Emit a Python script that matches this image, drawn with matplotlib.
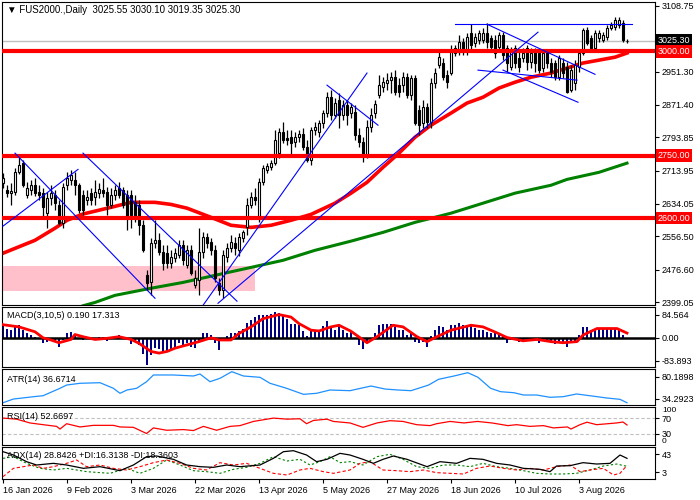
import numpy as np
import matplotlib.pyplot as plt
from matplotlib.patches import Rectangle

plt.rcParams['font.family'] = ['Liberation Sans', 'DejaVu Sans']

# daily candles (bar index 0 = 16 Jan 2026)
opens = [2684, 2667, 2660, 2662, 2710, 2732, 2655, 2667, 2679, 2662,
         2660, 2612, 2648, 2655, 2631, 2588, 2679, 2691, 2691, 2679,
         2655, 2643, 2660, 2650, 2660, 2667, 2662, 2631, 2655, 2672,
         2667, 2655, 2655, 2638, 2631, 2583, 2463, 2446, 2540, 2547,
         2518, 2516, 2492, 2504, 2511, 2535, 2487, 2523, 2439, 2451,
         2518, 2554, 2542, 2523, 2444, 2427, 2506, 2528, 2540, 2523,
         2552, 2578, 2631, 2650, 2602, 2686, 2715, 2722, 2732, 2756,
         2806, 2792, 2794, 2782, 2794, 2801, 2770, 2739, 2811, 2806,
         2828, 2852, 2890, 2847, 2883, 2847, 2871, 2852, 2854, 2799,
         2782, 2751, 2818, 2852, 2895, 2914, 2924, 2931, 2938, 2919,
         2919, 2938, 2895, 2936, 2859, 2828, 2866, 2830, 2924, 2967,
         2972, 2943, 2948, 2996, 2998, 3022, 2998, 3044, 3020, 3027,
         3027, 3044, 3032, 3027, 3010, 3039, 3008, 2962, 3008, 2984,
         2984, 3008, 2974, 2998, 2996, 2960, 2998, 2972, 2972, 2938,
         2972, 2962, 2907, 2924, 2962, 2996, 3051, 3032, 3008, 3032,
         3027, 3034, 3056, 3058, 3063, 3068, 3025.55]
highs = [2708, 2679, 2684, 2720, 2746, 2739, 2686, 2691, 2696, 2679,
         2672, 2662, 2679, 2667, 2643, 2684, 2710, 2715, 2710, 2684,
         2667, 2667, 2672, 2691, 2684, 2696, 2674, 2672, 2679, 2686,
         2674, 2667, 2667, 2655, 2643, 2595, 2475, 2552, 2595, 2564,
         2535, 2535, 2523, 2528, 2547, 2547, 2535, 2535, 2475, 2576,
         2566, 2564, 2552, 2535, 2456, 2523, 2540, 2559, 2554, 2564,
         2571, 2648, 2662, 2672, 2696, 2727, 2732, 2739, 2811, 2816,
         2830, 2811, 2811, 2806, 2811, 2816, 2787, 2818, 2830, 2835,
         2859, 2902, 2907, 2888, 2900, 2883, 2883, 2876, 2871, 2816,
         2794, 2835, 2864, 2883, 2943, 2938, 2948, 2950, 2955, 2936,
         2950, 2948, 2943, 2943, 2871, 2883, 2876, 2936, 2960, 3003,
         2984, 2955, 3015, 3015, 3039, 3032, 3044, 3065, 3044, 3051,
         3056, 3068, 3039, 3039, 3046, 3046, 3015, 3010, 3015, 2998,
         3008, 3015, 3008, 3008, 3003, 3003, 3003, 2984, 2979, 2991,
         2984, 2974, 2967, 2979, 3003, 3056, 3058, 3039, 3051, 3051,
         3046, 3063, 3070, 3082, 3082, 3075, 3030.10]
lows = [2672, 2650, 2631, 2655, 2706, 2674, 2648, 2655, 2653, 2643,
        2602, 2576, 2631, 2619, 2583, 2576, 2667, 2679, 2655, 2612,
        2607, 2631, 2631, 2631, 2648, 2650, 2607, 2624, 2643, 2648,
        2624, 2571, 2576, 2590, 2559, 2518, 2427, 2415, 2528, 2511,
        2475, 2480, 2480, 2494, 2504, 2487, 2480, 2463, 2432, 2415,
        2504, 2528, 2511, 2446, 2415, 2408, 2494, 2518, 2511, 2509,
        2542, 2559, 2624, 2631, 2590, 2679, 2708, 2715, 2727, 2744,
        2780, 2775, 2751, 2770, 2782, 2763, 2734, 2727, 2799, 2794,
        2816, 2842, 2835, 2840, 2816, 2835, 2823, 2840, 2787, 2770,
        2734, 2744, 2806, 2840, 2888, 2902, 2907, 2900, 2895, 2890,
        2902, 2888, 2883, 2823, 2799, 2816, 2816, 2816, 2912, 2960,
        2931, 2912, 2943, 2989, 2991, 2991, 2991, 3003, 3010, 3017,
        3020, 3008, 2998, 2984, 2998, 2979, 2950, 2955, 2960, 2950,
        2974, 2955, 2960, 2950, 2948, 2950, 2960, 2938, 2931, 2931,
        2936, 2900, 2902, 2907, 2950, 2991, 3015, 3003, 3003, 3022,
        3022, 3027, 3051, 3051, 3056, 3022, 3019.35]
closes = [2696, 2660, 2665, 2710, 2727, 2679, 2672, 2679, 2660, 2655,
          2626, 2648, 2660, 2636, 2588, 2674, 2696, 2703, 2679, 2619,
          2619, 2650, 2643, 2662, 2669, 2660, 2631, 2655, 2667, 2655,
          2631, 2600, 2607, 2602, 2583, 2523, 2444, 2540, 2547, 2518,
          2492, 2492, 2506, 2516, 2535, 2499, 2523, 2468, 2456, 2518,
          2554, 2540, 2523, 2456, 2427, 2511, 2528, 2542, 2528, 2554,
          2566, 2631, 2650, 2643, 2686, 2720, 2725, 2732, 2787, 2806,
          2787, 2787, 2780, 2794, 2801, 2770, 2739, 2811, 2818, 2828,
          2852, 2890, 2847, 2876, 2847, 2871, 2847, 2866, 2799, 2782,
          2751, 2818, 2847, 2873, 2919, 2926, 2931, 2938, 2902, 2902,
          2938, 2895, 2936, 2828, 2823, 2866, 2830, 2924, 2948, 2986,
          2938, 2926, 3003, 3008, 3022, 2998, 3034, 3015, 3034, 3044,
          3044, 3022, 3010, 2996, 3039, 2991, 2972, 3003, 2972, 2962,
          2996, 2974, 2996, 2972, 2955, 2996, 2972, 2950, 2938, 2984,
          2948, 2902, 2955, 2967, 2996, 3051, 3020, 3008, 3044, 3044,
          3039, 3056, 3063, 3075, 3075, 3027, 3025.30]

# moving averages (points along the lines)
ma_red_x = [0, 8, 13, 16, 20, 27, 32, 38, 42, 46, 52, 57, 62, 67, 72, 77, 83,
            87, 91, 95, 99, 103, 107, 112, 116, 120, 124, 128, 132, 137, 141,
            145, 149, 153, 156]
ma_red_y = [2516, 2547, 2576, 2595, 2610, 2626, 2638, 2638, 2633, 2624, 2602,
            2583, 2578, 2583, 2595, 2609, 2636, 2660, 2686, 2722, 2756, 2794,
            2823, 2852, 2876, 2890, 2912, 2926, 2938, 2948, 2960, 2972, 2979,
            2986, 2996]
ma_green_x = [20, 23, 28, 37, 45, 53, 62, 70, 78, 87, 95, 103, 112, 120, 128,
              137, 141, 149, 156]
ma_green_y = [2390, 2398, 2415, 2432, 2446, 2463, 2482, 2499, 2523, 2545, 2566,
              2590, 2612, 2636, 2660, 2679, 2693, 2710, 2732]

levels = [3000.00, 2750.00, 2600.00]
last_price = 3025.30
price_ticks = [3108.75, 2951.30, 2871.40, 2793.85, 2713.95, 2634.05, 2556.50,
               2476.60, 2399.05]

# trend lines: (x0, y0, x1, y1)
trend_lines = [(0, 2581, 18.75, 2717), (3, 2756, 38, 2408),
               (20, 2756, 58.5, 2401), (50, 2391, 91, 2948),
               (53.75, 2396, 133.75, 3046), (81, 2919, 93.75, 2823),
               (113, 3065, 157.25, 3065), (121, 3065, 148, 2945),
               (118.75, 2955, 143.5, 2931), (125, 2955, 143.75, 2878)]
zone = (-0.25, 63, 2425, 2485)

macd_hist = [45, 34, 28, 40, 46, 28, 16, 12, 4, -6, -20, -15, -8, -11, -35, -8,
             18, 22, 12, -6, -8, 4, -6, 0, 4, 4, -11, -6, 6, 10, -6, -8, -23,
             -15, -27, -60, -98, -62, -38, -42, -50, -50, -42, -32, -18, -26,
             -18, -32, -38, -14, 16, 19, 12, -20, -44, -12, 6, 18, 16, 24, 34,
             54, 64, 75, 82, 85, 82, 88, 94, 90, 85, 70, 52, 52, 46, 25, 8, 30,
             28, 28, 42, 61, 40, 28, 46, 28, 16, 22, -6, -26, -42, -14, -8, 19,
             46, 52, 52, 52, 40, 30, 28, 10, 22, -14, -20, -14, -32, 6, 28, 42,
             40, 28, 46, 46, 55, 46, 46, 48, 37, 30, 30, 22, 16, 16, 16, 6, -20,
             -8, -8, -17, -11, -8, -11, -8, -18, -11, -11, -14, -24, -14, -18,
             -32, -20, -18, 10, 40, 40, 28, 34, 34, 34, 34, 34, 34, 34, 12, 0.19]
macd_sig_x = [0, 4, 8, 10, 12, 14, 17, 18, 20, 23, 26, 29, 32, 34, 37, 39, 41,
              43, 46, 49, 52, 54, 57, 59, 62, 65, 69, 72, 74, 77, 79, 82, 84, 87,
              91, 93.5, 97.5, 100, 103.5, 106, 108.5, 112, 117, 120, 123.5, 126,
              130, 133.5, 137, 140, 143.5, 145, 148.5, 153.5, 156]
macd_sig_y = [48, 40, 22, 0, -8, -18, -6, 12, 4, -6, -2, 4, -6, -20, -50, -56,
              -50, -38, -26, -14, 0, -8, -8, 16, 40, 70, 85, 76, 52, 28, 25, 40,
              46, 24, -18, 4, 46, 40, 4, -14, 4, 28, 46, 40, 18, 1, -11, -6, -14,
              -18, -14, 10, 34, 34, 17.3]

atr_x = [0, 2.6, 7.6, 10, 14.25, 15.9, 19.25, 24.25, 27.6, 29.25, 31, 33.4,
         35.9, 37.6, 42.6, 47.6, 49.25, 51.75, 54.25, 57.2, 60.1, 64.25, 66.75,
         70.9, 75.1, 78.4, 81.75, 86.75, 92, 95.5, 98.75, 102, 106.4, 108.9,
         112.75, 116.2, 118.75, 121.9, 124.4, 127.75, 130.1, 133.4, 136.75,
         140, 143.4, 146.75, 150.9, 154.25, 156]
atr_y = [26.6, 34.2, 39, 41, 56.3, 63, 66.6, 67.8, 56.3, 46, 52.8, 56.3, 69.9,
         83.7, 83.7, 81.6, 85.7, 69.9, 76.9, 90.5, 81.6, 78.9, 66.6, 56.3, 43.9,
         46, 52.8, 51.4, 61, 54.8, 52.8, 51.4, 63, 74.8, 81.6, 88.4, 78.9, 56.3,
         49.3, 47.2, 42.5, 42.5, 37.8, 39, 44.6, 41, 36.4, 33.6, 26.6]

rsi_x = [0, 3.4, 6.75, 10, 13.4, 14.25, 15.9, 19.25, 22.6, 27.6, 29.25, 32.6,
         35.9, 37.6, 40.9, 45.1, 47.6, 50.1, 53.4, 56.75, 59.25, 62.6, 67.6, 71,
         74.25, 75.9, 77.6, 81, 82.6, 86.75, 90, 93.5, 96.75, 100, 103.4,
         106.75, 108.4, 111.75, 115.25, 118.6, 122.25, 126.25, 128.4, 131.75,
         135.1, 137.6, 141.1, 142, 144.25, 146, 148.4, 153.4, 155, 156]
rsi_y = [70.8, 68, 58, 53.5, 49, 42, 56, 47.5, 51.7, 51.7, 47.5, 46.5, 30.2, 45,
         38.8, 40.6, 38, 49, 38.8, 49, 51, 62, 70.8, 68, 69, 56, 64.6, 68, 62,
         58, 46.5, 58, 64, 62, 53.5, 51, 56, 62, 58, 62, 58, 51, 53.5, 49, 51,
         45, 47.5, 42, 53.5, 60, 53.5, 58, 60.5, 52.7]

adx_x = [0, 2.6, 5.9, 8.4, 12.6, 15.9, 20.1, 24.25, 29.25, 32.6, 35.9, 38.4,
         42.6, 45.9, 49.25, 52.6, 55.9, 59.25, 64.25, 67.6, 70.1, 72.6, 75.9,
         78.4, 81, 84.25, 86.75, 90, 92.6, 95, 97.6, 101, 106, 109.25, 113.4,
         116.75, 120, 123.4, 126.75, 130.1, 134.25, 136.75, 138.4, 141.75, 145,
         148.4, 151.75, 154.25, 156]
adx_y = [48.8, 41.4, 26.6, 19.2, 22.9, 19.2, 11.8, 15.5, 6.6, 19.2, 37.7, 39.2,
         31.8, 19.2, 15.5, 14, 19.2, 15.5, 19.2, 34, 48.8, 51, 41.4, 26.6, 31.8,
         45.1, 41.4, 31.8, 22.9, 31.8, 39.2, 31.8, 15.5, 26.6, 22.9, 34, 31.8,
         22.9, 19.2, 11.8, 9.6, 4.4, 17, 17.7, 24.4, 21.4, 22.9, 41.4, 34]
pdi_x = [0, 2.6, 5.9, 9.25, 12.6, 15.9, 20.9, 26.75, 30.9, 34.25, 37.6, 40.9,
         44.25, 47.6, 50.9, 54.25, 57.6, 60.9, 64.25, 67.6, 71, 74.25, 76.75,
         79.25, 81.75, 84.25, 86.75, 90, 93.5, 96.75, 100, 103.4, 106.75, 110.1,
         113.4, 116.75, 120, 123.4, 126.75, 130.1, 133.4, 136.75, 140, 143.4,
         146.75, 150.1, 153.4, 156]
pdi_y = [34, 37.7, 22.9, 11.8, 8.1, 11.8, 4.4, 0.7, 11.8, 0.7, 11.8, 30.3, 19.2,
         6.6, 4.4, 0.7, 9.6, 14, 22.9, 37.7, 28.1, 31.8, 19.2, 26.6, 37.7, 24.4,
         26.6, 19.2, 37.7, 43, 31.8, 15.5, 11.8, 19.2, 19.2, 15.5, 22.9, 15.5,
         11.8, 6.6, 0.7, -0.8, -0.8, 0.7, 8.1, 17, 21.4, 16.3]
mdi_x = [0, 2.6, 5.1, 7.6, 10.1, 12.6, 15.9, 18.4, 20.9, 24.25, 27.6, 30.9,
         34.25, 37.6, 40.9, 44.25, 47.6, 50.9, 54.25, 57.6, 60.9, 64.25, 67.6,
         71, 74.25, 76.75, 80.1, 82.6, 86.75, 89.25, 91.75, 95, 98.4, 101.75,
         105.1, 108.4, 111.75, 115.1, 118.4, 121.75, 125.1, 128.4, 131.75,
         135.1, 138.4, 141.75, 144.25, 146.75, 150.1, 152.6, 154.25, 156]
mdi_y = [-6.7, 11.8, 15.5, 19.2, 11.8, 15.5, 22.9, 30.3, 15.5, 19.2, 11.8, 8.1,
         15.5, 24.4, 30.3, 22.9, 11.8, 8.1, 24.4, 19.2, 22.9, 11.8, 0.7, -3, 8.1,
         11.8, 4.4, 0.7, 8.1, 22.9, 26.6, 8.1, 6.6, 4.4, 8.1, 2.2, 0.7, -0.8,
         11.8, 17, 11.8, 8.1, 11.8, 8.1, 15.5, 19.2, 4.4, 8.1, 11.8, -3, 0.7,
         18.4]

date_pos = [0, 16, 32, 48, 64, 80, 96, 112, 128, 144]
date_labels = ["16 Jan 2026", "9 Feb 2026", "3 Mar 2026", "22 Mar 2026",
               "13 Apr 2026", "5 May 2026", "27 May 2026", "18 Jun 2026",
               "10 Jul 2026", "3 Aug 2026"]

FS = 6.5
W, H = 700, 500
fig = plt.figure(figsize=(7, 5), dpi=100)


def panel(top, bottom):
    return fig.add_axes([2 / W, 1 - bottom / H, 653 / W, (bottom - top) / H])


ax = panel(2, 305)
ax_macd = panel(307, 367)
ax_atr = panel(369, 405)
ax_rsi = panel(407, 445)
ax_adx = panel(447, 479)
axes = [ax, ax_macd, ax_atr, ax_rsi, ax_adx]

for a in axes:
    a.set_xlim(-0.25, 163)
    a.yaxis.tick_right()
    a.tick_params(axis='y', direction='out', length=3, width=0.8,
                  labelsize=FS, pad=2)
    a.tick_params(axis='x', bottom=False, labelbottom=False)
    for s in a.spines.values():
        s.set_color('black')
        s.set_linewidth(0.8)


def box_label(a, y, text, fc):
    a.annotate(text, xy=(1, y), xycoords=('axes fraction', 'data'),
               xytext=(2, 0), textcoords='offset points', ha='left',
               va='center', color='white', fontsize=FS,
               bbox=dict(boxstyle='square,pad=0.2', fc=fc, ec='none'),
               annotation_clip=False, zorder=10)


# main price chart
ax.set_ylim(2391.86, 3118.34)
ax.set_yticks(price_ticks, [f"{v:.2f}" for v in price_ticks])

z0, z1, zlo, zhi = zone
ax.add_patch(Rectangle((z0, zlo), z1 - z0, zhi - zlo, color='#FFC0CB',
                       lw=0, zorder=1))
ax.axhline(last_price, color='#C0C0C0', lw=1, zorder=1.5)
ax.plot(ma_green_x, ma_green_y, color='#008000', lw=2.2, zorder=2)
ax.plot(ma_red_x, ma_red_y, color='red', lw=2.6, zorder=2)

o = np.array(opens)
h = np.array(highs)
l = np.array(lows)
c = np.array(closes)
x = np.arange(len(c))
fill = np.where(c >= o, 'white', 'black')
ax.vlines(x, l, h, color='black', lw=0.9, zorder=3)
ax.bar(x, np.abs(c - o), bottom=np.minimum(o, c), width=0.5, color=fill,
       edgecolor='black', linewidth=0.8, zorder=3.5)

for lv in levels:
    ax.axhline(lv, color='red', lw=3, zorder=4)
for x0, y0, x1, y1 in trend_lines:
    ax.plot([x0, x1], [y0, y1], color='blue', lw=0.8, zorder=4)

box_label(ax, last_price, f"{last_price:.2f}", 'black')
for lv in levels:
    box_label(ax, lv, f"{lv:.2f}", 'red')

fig.text(7 / W, 1 - 10 / H,
         "\u25bc FUS2000.,Daily  3025.55 3030.10 3019.35 3025.30",
         fontsize=FS + 0.5, va='center', ha='left')

# MACD
ax_macd.set_ylim(-106.9, 112.8)
ax_macd.set_yticks([84.564, 0, -83.893], ['84.564', '0.00', '-83.893'])
ax_macd.bar(x, macd_hist, width=0.6, color='#000080', zorder=2)
ax_macd.axhline(0, color='black', lw=1.8, zorder=3)
ax_macd.plot(macd_sig_x, macd_sig_y, color='red', lw=2, zorder=4)
ax_macd.text(0.008, 0.86, "MACD(3,10,5) 0.190 17.313", transform=ax_macd.transAxes,
             fontsize=FS, va='center')

# ATR
ax_atr.set_ylim(21.94, 96.0)
ax_atr.set_yticks([80.1898, 34.2923], ['80.1898', '34.2923'])
ax_atr.plot(atr_x, atr_y, color='#1E90FF', lw=0.9)
ax_atr.text(0.008, 0.72, "ATR(14) 36.6714", transform=ax_atr.transAxes,
            fontsize=FS, va='center')

# RSI
ax_rsi.set_ylim(0, 100)
ax_rsi.set_yticks([70, 30], ['70', '30'])
for lv in (70, 30):
    ax_rsi.axhline(lv, color='#C0C0C0', lw=0.8, ls=(0, (3, 2)))
ax_rsi.plot(rsi_x, rsi_y, color='red', lw=0.9)
for val, txt in ((91, '100'), (9, '0')):
    ax_rsi.annotate(txt, xy=(1, val), xycoords=('axes fraction', 'data'),
                    xytext=(5, 0), textcoords='offset points', fontsize=FS - 0.5,
                    va='center', ha='left', annotation_clip=False)
ax_rsi.text(0.008, 0.76, "RSI(14) 52.6697", transform=ax_rsi.transAxes,
            fontsize=FS, va='center')

# ADX
ax_adx.set_ylim(-11.9, 59.2)
ax_adx.set_yticks([43, 3], ['43', '3'])
ax_adx.plot(pdi_x, pdi_y, color='#008000', lw=0.8, ls=(0, (2, 2)))
ax_adx.plot(mdi_x, mdi_y, color='red', lw=0.8, ls=(0, (3, 2)))
ax_adx.plot(adx_x, adx_y, color='black', lw=0.9)
ax_adx.text(0.008, 0.72, "ADX(14) 28.8426 +DI:16.3138 -DI:18.3603",
            transform=ax_adx.transAxes, fontsize=FS, va='center')

ax_adx.tick_params(axis='x', bottom=True, labelbottom=True, direction='out',
                   length=3, width=0.8, labelsize=FS, pad=2)
ax_adx.set_xticks(date_pos, date_labels)
for t in ax_adx.get_xticklabels():
    t.set_ha('left')

fig.savefig('out.png', dpi=100)
